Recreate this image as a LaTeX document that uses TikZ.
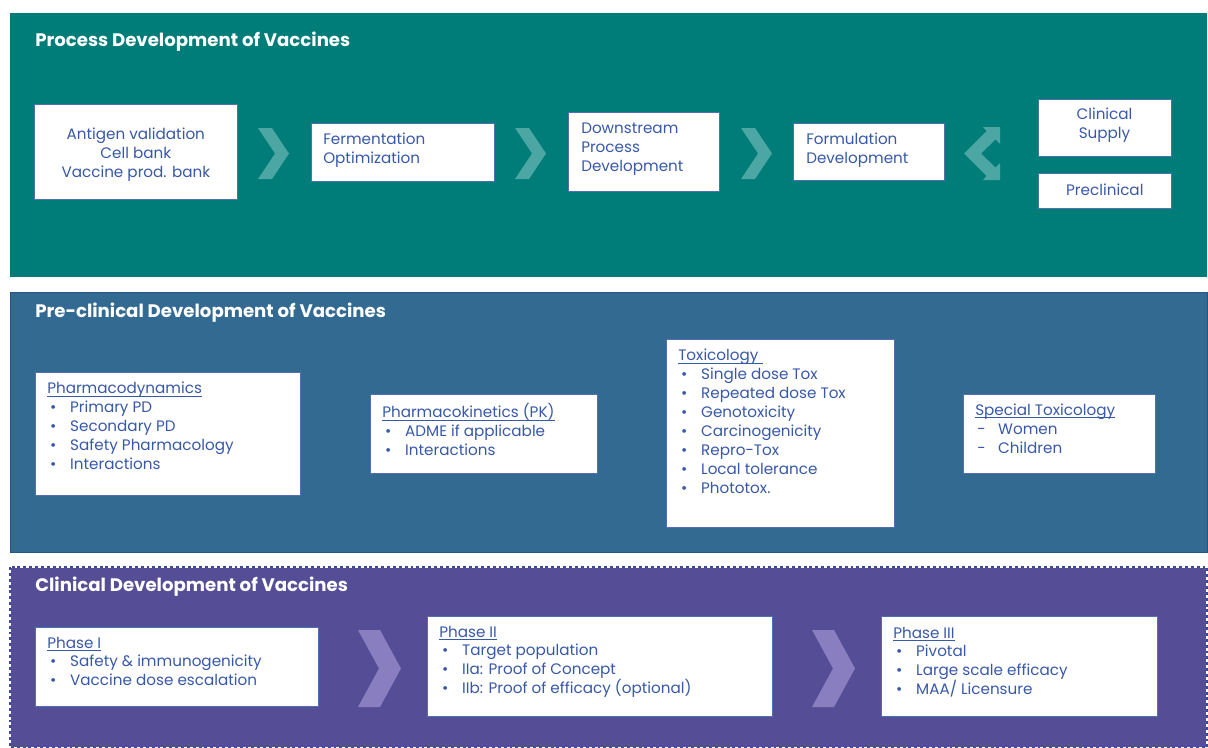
\documentclass[tikz,border=0pt]{standalone}
\usepackage{fontspec}
\setmainfont{Poppins}
\definecolor{procpanel}{RGB}{0,124,121}
\definecolor{prepanel}{RGB}{51,106,146}
\definecolor{prepanelline}{RGB}{40,84,132}
\definecolor{clinpanel}{RGB}{85,78,150}
\definecolor{clinline}{RGB}{60,74,150}
\definecolor{procchev}{RGB}{76,166,163}
\definecolor{clinchev}{RGB}{136,126,192}
\definecolor{boxtext}{RGB}{56,88,168}
\definecolor{boxline}{RGB}{82,112,175}
% underline sitting just under the baseline
\newcommand\ulin[1]{\leavevmode\setbox0\hbox{#1}\rlap{\rule[-1.8pt]{\wd0}{0.45pt}}\box0}
% list markers with a fixed indent
\newcommand\bul{\hspace*{2.2pt}\makebox[15pt][l]{\textbullet}}
\newcommand\dsh{\hspace*{1.5pt}\makebox[15.7pt][l]{-}}
% white box given by its corners
\newcommand\wbox[5]{\node[wbox, anchor=north west, minimum width={(#4-#2)*0.75pt}, minimum height={(#5-#3)*0.75pt}] (#1) at (#2,#3) {};}
\begin{document}
\begin{tikzpicture}[x=0.75pt,y=-0.75pt,
  wbox/.style={fill=white, draw=boxline, line width=0.5pt, inner sep=0pt},
  txt/.style={text=boxtext, font=\fontsize{11.4}{14.2}\selectfont, align=left, inner sep=0pt},
  ctxt/.style={txt, align=center},
  head/.style={text=white, font=\fontsize{13.6}{15}\selectfont\bfseries, inner sep=0pt, anchor=west},
  procarrow/.style={fill=procchev},
  clinarrow/.style={fill=clinchev}]
\useasboundingbox (0,0) rectangle (1208,747);

% ---- panels
\fill[procpanel] (10,13) rectangle (1207,277);
\fill[prepanel] (10,292) rectangle (1207,552);
\draw[prepanelline, line width=0.6pt] (10,292) rectangle (1207,552);
\fill[clinpanel] (10,567) rectangle (1207,748);
\draw[white, line width=0.8pt] (10,567) rectangle (1207,748);
\draw[clinline, line width=0.8pt, dash pattern=on 2.2pt off 2.2pt] (10,567) rectangle (1207,748);

\node[head] (proct) at (35,42) {Process Development of Vaccines};
\node[head] (pret) at (35,313) {Pre-clinical Development of Vaccines};
\node[head] (clint) at (35,587) {Clinical Development of Vaccines};

% ---- process development
\wbox{antigen}{34}{104}{237}{199}
\wbox{ferm}{311}{123}{494}{181}
\wbox{down}{568}{112}{719}{191}
\wbox{form}{793}{123}{944}{180}
\wbox{supply}{1038}{99}{1171}{156}
\wbox{precl}{1038}{173}{1171}{208}

\node[ctxt] (antigent) at ([yshift=-2.2pt]antigen.center) {Antigen validation\\Cell bank\\Vaccine prod. bank};
\node[txt, anchor=north west] (fermt) at (323,133) {Fermentation\\Optimization};
\node[txt, anchor=north west] (downt) at (581,122.5) {Downstream\\Process\\Development};
\node[txt, anchor=north west] (formt) at (806,133) {Formulation\\Development};
\node[ctxt, anchor=north] (supplyt) at (1104.5,108) {Clinical\\Supply};
\node[ctxt] (preclt) at ([yshift=1pt]precl.center) {Preclinical};

\foreach \l in {258,515,741}
  \fill[procarrow] (\l,128) -- (\l+14,128) -- (\l+31,153.5) -- (\l+14,179) -- (\l,179) -- (\l+17,153.5) -- cycle;
% bent double arrow towards supply and preclinical
\fill[procarrow] (964,153.5) -- (986.5,131) -- (983,127) -- (1000,127) -- (1000,144) -- (995.5,139.5)
  -- (981,153.5) -- (995.5,167.5) -- (1000,163) -- (1000,180) -- (983,180) -- (986.5,176) -- cycle;

% ---- pre-clinical development
\wbox{pd}{35}{372}{300}{495}
\wbox{pk}{370}{394}{597}{473}
\wbox{tox}{666}{339}{894}{527}
\wbox{spec}{963}{394}{1155}{473}

\node[txt, anchor=north west] (pdt) at (47,382) {\ulin{Pharmacodynamics}\\\bul Primary PD\\\bul Secondary PD\\\bul Safety Pharmacology\\\bul Interactions};
\node[txt, anchor=north west] (pkt) at (382,403.5) {\ulin{Pharmacokinetics (PK)}\\\bul ADME if applicable\\\bul Interactions};
\node[txt, anchor=north west] (toxt) at (678,349) {\ulin{Toxicology\ }\\\bul Single dose Tox\\\bul Repeated dose Tox\\\bul Genotoxicity\\\bul Carcinogenicity\\\bul Repro-Tox\\\bul Local tolerance\\\bul Phototox.};
\node[txt, anchor=north west] (spect) at (975,403.5) {\ulin{Special Toxicology}\\\dsh Women\\\dsh Children};

% ---- clinical development
\wbox{ph1}{35}{627}{318}{706}
\wbox{ph2}{427}{616}{772}{716}
\wbox{ph3}{881}{616}{1157}{716}

\node[txt, anchor=north west] (ph1t) at (47,636.5) {\ulin{Phase I}\\\bul Safety \& immunogenicity\\\bul Vaccine dose escalation};
\node[txt, anchor=north west] (ph2t) at (439,625.5) {\ulin{Phase II}\\\bul Target population\\\bul IIa: Proof of Concept\\\bul IIb: Proof of efficacy (optional)};
\node[txt, anchor=north west] (ph3t) at (893,626.5) {\ulin{Phase III}\\\bul Pivotal\\\bul Large scale efficacy\\\bul MAA/ Licensure};

\foreach \l in {358,812}
  \fill[clinarrow] (\l,630) -- (\l+22,630) -- (\l+43,668.5) -- (\l+22,707) -- (\l,707) -- (\l+21,668.5) -- cycle;
\end{tikzpicture}
\end{document}
